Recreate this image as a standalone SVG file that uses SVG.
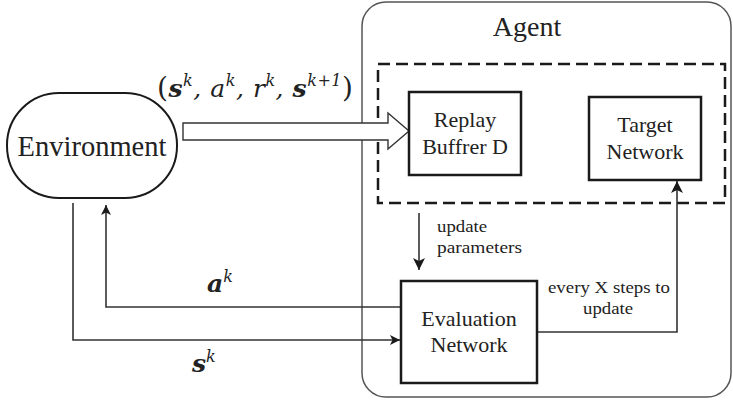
<svg xmlns="http://www.w3.org/2000/svg" width="733" height="400" viewBox="0 0 733 400">
  <defs>
    <style>
      text { font-family: "Liberation Serif", "Times New Roman", serif; fill: #222; }
      .box { fill: #fff; stroke: #1a1a1a; stroke-width: 2.5; }
      .wire { fill: none; stroke: #333; stroke-width: 1.6; }
      .math { font-family: "DejaVu Serif", "Liberation Serif", serif; font-style: italic; font-size: 25px; }
      .sup { font-size: 16px; }
      .up { font-style: normal; font-size: 28px; }
      .note { font-size: 17px; }
    </style>
    <marker id="head" viewBox="0 0 10 10" refX="10" refY="5" markerWidth="10" markerHeight="10" markerUnits="userSpaceOnUse" orient="auto">
      <path d="M0,0 L10,5 L0,10 L2.5,5 z" fill="#1a1a1a"/>
    </marker>
    <marker id="headBig" viewBox="0 0 10 10" refX="10" refY="5" markerWidth="12" markerHeight="12" markerUnits="userSpaceOnUse" orient="auto">
      <path d="M0,0 L10,5 L0,10 L2.5,5 z" fill="#1a1a1a"/>
    </marker>
  </defs>
  <rect width="733" height="400" fill="#fff"/>

  <!-- Agent container -->
  <g id="agent">
    <rect x="362" y="2" width="369" height="395" rx="24" ry="24" fill="none" stroke="#555" stroke-width="1.5"/>
    <text x="527" y="36" font-size="28" text-anchor="middle">Agent</text>
    <rect x="378" y="64" width="347" height="139" fill="none" stroke="#1a1a1a" stroke-width="2.5" stroke-dasharray="12,6"/>
  </g>

  <!-- Connectors -->
  <g id="connectors">
    <!-- transition tuple: hollow block arrow -->
    <path d="M183,123 L388,123 L388,113 L409,131 L388,149 L388,140 L183,140 z" fill="#fff" stroke="#333" stroke-width="1.4"/>
    <!-- update parameters -->
    <line class="wire" x1="419" y1="213" x2="419" y2="270" stroke-width="2" marker-end="url(#headBig)"/>
    <!-- every X steps to update -->
    <polyline class="wire" points="537,332 677,332 677,181" stroke-width="2" marker-end="url(#headBig)"/>
    <!-- action back to environment -->
    <polyline class="wire" points="401,307 106,307 106,205" marker-end="url(#head)"/>
    <!-- state into evaluation network -->
    <polyline class="wire" points="73,203 73,340 400,340" marker-end="url(#head)"/>
  </g>

  <!-- Environment -->
  <g id="environment">
    <rect x="7" y="93" width="170" height="105" rx="52" ry="52" fill="#fff" stroke="#1a1a1a" stroke-width="2"/>
    <text x="92" y="156" font-size="28.5" text-anchor="middle">Environment</text>
  </g>

  <!-- Replay buffer -->
  <g id="replay-buffer">
    <rect class="box" x="409" y="92" width="112" height="83"/>
    <text x="465" y="127" font-size="22" text-anchor="middle">Replay</text>
    <text x="465" y="154" font-size="22" text-anchor="middle">Buffrer D</text>
  </g>

  <!-- Target network -->
  <g id="target-network">
    <rect class="box" x="589" y="97" width="112" height="83"/>
    <text x="645" y="132" font-size="22" text-anchor="middle">Target</text>
    <text x="645" y="159" font-size="22" text-anchor="middle">Network</text>
  </g>

  <!-- Evaluation network -->
  <g id="evaluation-network">
    <rect class="box" x="401" y="281" width="136" height="102"/>
    <text x="469" y="326" font-size="22" text-anchor="middle">Evaluation</text>
    <text x="469" y="352" font-size="22" text-anchor="middle">Network</text>
  </g>

  <!-- Edge labels -->
  <g id="labels">
    <text class="math" x="157" y="97" textLength="196" lengthAdjust="spacing"><tspan class="up">(</tspan><tspan font-weight="bold">s</tspan><tspan dy="-11" class="sup">k</tspan><tspan dy="11">, a</tspan><tspan dy="-11" class="sup">k</tspan><tspan dy="11">, r</tspan><tspan dy="-11" class="sup">k</tspan><tspan dy="11">, </tspan><tspan font-weight="bold">s</tspan><tspan dy="-11" class="sup">k+1</tspan><tspan dy="11" class="up">)</tspan></text>
    <text class="math" x="207" y="292"><tspan font-weight="bold">a</tspan><tspan dy="-10" class="sup">k</tspan></text>
    <text class="math" x="192" y="372"><tspan font-weight="bold">s</tspan><tspan dy="-10" class="sup">k</tspan></text>
    <text class="note" x="437" y="232" textLength="50" lengthAdjust="spacingAndGlyphs">update</text>
    <text class="note" x="437" y="253" textLength="85" lengthAdjust="spacingAndGlyphs">parameters</text>
    <text class="note" x="548" y="293" textLength="122" lengthAdjust="spacingAndGlyphs">every X steps to</text>
    <text class="note" x="583" y="314" textLength="50" lengthAdjust="spacingAndGlyphs">update</text>
  </g>
</svg>
